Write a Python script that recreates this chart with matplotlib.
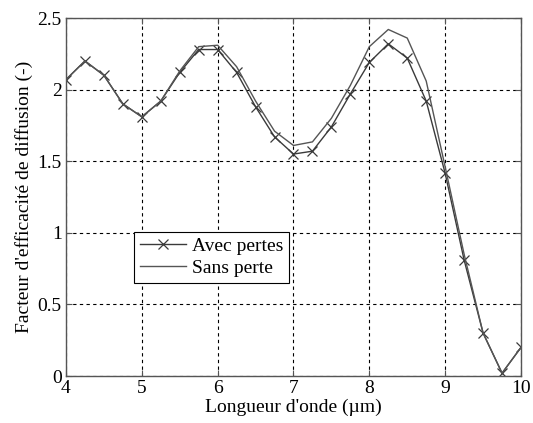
import matplotlib
matplotlib.use("Agg")
import matplotlib.pyplot as plt

wavelength = [4.0, 4.25, 4.5, 4.75, 5.0, 5.25, 5.5, 5.75, 6.0, 6.25, 6.5, 6.75, 7.0,
              7.25, 7.5, 7.75, 8.0, 8.25, 8.5, 8.75, 9.0, 9.25, 9.5, 9.75, 10.0]
avec_pertes = [2.07, 2.20, 2.10, 1.90, 1.81, 1.92, 2.12, 2.28, 2.28, 2.12, 1.88, 1.67, 1.55,
               1.57, 1.74, 1.97, 2.19, 2.32, 2.22, 1.92, 1.415, 0.81, 0.30, 0.02, 0.20]
sans_perte = [2.07, 2.20, 2.10, 1.90, 1.81, 1.92, 2.13, 2.30, 2.31, 2.16, 1.92, 1.71, 1.61,
              1.635, 1.80, 2.03, 2.30, 2.42, 2.36, 2.06, 1.46, 0.85, 0.30, 0.02, 0.20]
xticks = [4, 5, 6, 7, 8, 9, 10]
yticks = [0, 0.5, 1, 1.5, 2, 2.5]
ytick_labels = ["0", "0.5", "1", "1.5", "2", "2.5"]

plt.rcParams['font.family'] = ['Liberation Serif', 'DejaVu Serif']
plt.rcParams['font.size'] = 14

fig = plt.figure(figsize=(5.33, 4.23), dpi=100)
ax = fig.add_axes([0.1238, 0.1111, 0.8537, 0.8463])

ax.plot(wavelength, avec_pertes, color='#3a3a3a', lw=1.0, marker='x', ms=7,
        mew=0.9, mec='#3a3a3a', label='Avec pertes')
ax.plot(wavelength, sans_perte, color='#555555', lw=1.0, label='Sans perte')

ax.set_xlim(4, 10)
ax.set_ylim(0, 2.5)
ax.set_xticks(xticks)
ax.set_xticklabels([str(t) for t in xticks])
ax.set_yticks(yticks)
ax.set_yticklabels(ytick_labels)
ax.grid(True, color='black', linestyle=(0, (3, 3)), linewidth=0.8)
ax.tick_params(direction='in', top=True, right=True, length=4, color='#555555',
               labelsize=14, pad=3)
for s in ax.spines.values():
    s.set_color('#555555')
    s.set_linewidth(1.0)

ax.set_xlabel("Longueur d'onde (µm)", labelpad=1, fontsize=14)
ax.set_ylabel("Facteur d'efficacité de diffusion (-)", labelpad=3, fontsize=14)

leg = ax.legend(loc='upper left', bbox_to_anchor=(0.149, 0.403), fancybox=False,
                framealpha=1, edgecolor='black', borderaxespad=0, handlelength=2.4,
                handletextpad=0.3, borderpad=0.3, labelspacing=0.2, fontsize=14)
leg.get_frame().set_linewidth(0.8)

fig.savefig("out.png", dpi=100)
